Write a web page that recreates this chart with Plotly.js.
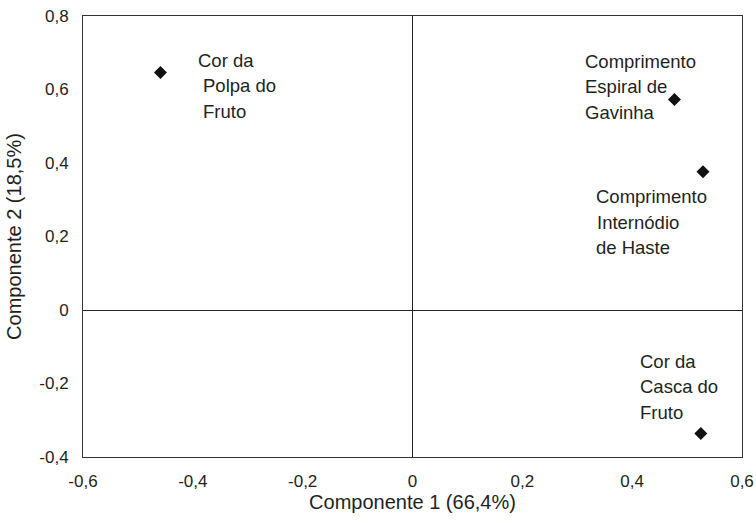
<!DOCTYPE html>
<html>
<head>
<meta charset="utf-8">
<script src="https://cdn.plot.ly/plotly-3.0.1.min.js"></script>
<style>
  html, body { margin: 0; padding: 0; background: #fff; }
  #chart { width: 756px; height: 523px; }
</style>
</head>
<body>
<div id="chart"></div>
<script>
// Loadings of the four traits on the first two principal components
const traits = [
  'Cor da Polpa do Fruto',
  'Comprimento Espiral de Gavinha',
  'Comprimento Internódio de Haste',
  'Cor da Casca do Fruto'
];
const component1 = [-0.459, 0.477, 0.529, 0.525];
const component2 = [0.646, 0.573, 0.376, -0.336];

// Label text, one entry per line
const labelLines = [
  ['Cor da', 'Polpa do', 'Fruto'],
  ['Comprimento', 'Espiral de', 'Gavinha'],
  ['Comprimento', 'Internódio', 'de Haste'],
  ['Cor da', 'Casca do', 'Fruto']
];

// Axis ticks
const xTickVals = [-0.6, -0.4, -0.2, 0, 0.2, 0.4, 0.6];
const xTickText = ['-0,6', '-0,4', '-0,2', '0', '0,2', '0,4', '0,6'];
const yTickVals = [-0.4, -0.2, 0, 0.2, 0.4, 0.6, 0.8];
const yTickText = ['-0,4', '-0,2', '0', '0,2', '0,4', '0,6', '0,8'];

const xTitle = 'Componente 1 (66,4%)';
const yTitle = 'Componente 2 (18,5%)';

// Pixel placement of each label block relative to its point
const labelStyle = {
  dx: [36, -91, -109, -63],
  dy: [-12, -38, 25, -72],
  indent: [[0, 5, 5], [0, 0, 0], [0, 1, 0], [0, 0, 0]],
  lineGap: 25.3
};

const textColor = '#231f20';
const fontFamily = '"Liberation Sans", Arial, Helvetica, sans-serif';

const annotations = [];
labelLines.forEach((lines, i) => {
  lines.forEach((line, j) => {
    annotations.push({
      x: component1[i],
      y: component2[i],
      xref: 'x',
      yref: 'y',
      text: line,
      showarrow: false,
      xanchor: 'left',
      yanchor: 'middle',
      xshift: labelStyle.dx[i] + labelStyle.indent[i][j],
      yshift: -(labelStyle.dy[i] + j * labelStyle.lineGap),
      font: { family: fontFamily, size: 18.5, color: textColor }
    });
  });
});

const trace = {
  type: 'scatter',
  mode: 'markers',
  x: component1,
  y: component2,
  text: traits,
  hoverinfo: 'text',
  marker: { symbol: 'diamond', size: 10, color: '#111' },
  showlegend: false
};

const axisCommon = {
  showgrid: false,
  zeroline: true,
  zerolinecolor: '#222',
  zerolinewidth: 1,
  showline: true,
  mirror: true,
  linecolor: '#333',
  linewidth: 1,
  ticks: '',
  tickmode: 'array',
  tickfont: { family: fontFamily, size: 17, color: textColor },
  fixedrange: true
};

const layout = {
  width: 756,
  height: 523,
  margin: { l: 83, r: 14, t: 16, b: 66 },
  paper_bgcolor: '#fff',
  plot_bgcolor: '#fff',
  font: { family: fontFamily, color: textColor },
  xaxis: Object.assign({}, axisCommon, {
    range: [-0.6, 0.6],
    tickvals: xTickVals,
    ticktext: xTickText,
    ticklabelstandoff: 9,
    title: { text: xTitle, font: { family: fontFamily, size: 20, color: textColor }, standoff: 4 }
  }),
  yaxis: Object.assign({}, axisCommon, {
    range: [-0.4, 0.8],
    tickvals: yTickVals,
    ticktext: yTickText,
    ticklabelstandoff: 10,
    title: { text: yTitle, font: { family: fontFamily, size: 20, color: textColor }, standoff: 12 }
  }),
  annotations: annotations
};

Plotly.newPlot('chart', [trace], layout, { displayModeBar: false, staticPlot: true });
</script>
</body>
</html>
